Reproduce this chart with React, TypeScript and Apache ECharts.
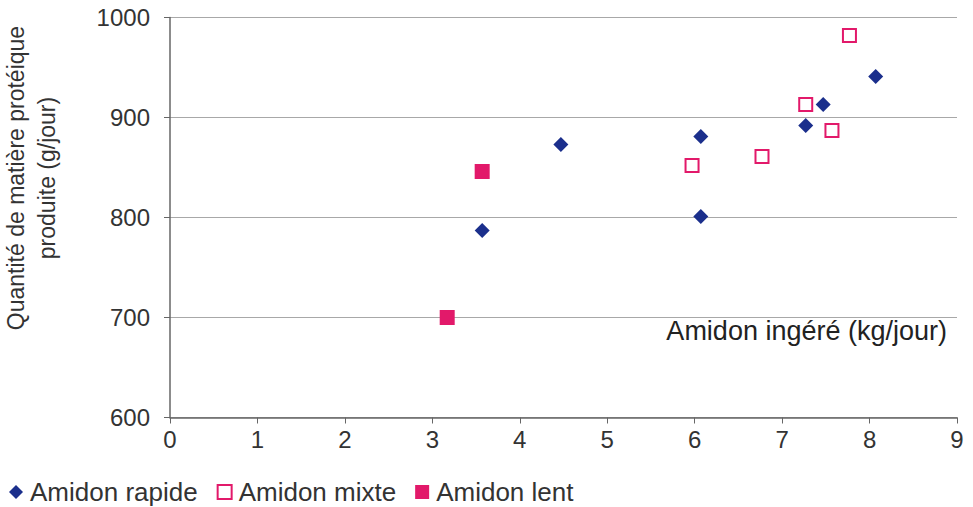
import React, { useEffect, useRef } from "react";
import * as echarts from "echarts";

const rapideX = [3.57, 4.47, 6.07, 6.07, 7.27, 7.47, 8.07];
const rapideY = [787, 873, 881, 801, 892, 913, 941];
const mixteX = [5.97, 6.77, 7.27, 7.57, 7.77];
const mixteY = [852, 861, 913, 887, 982];
const lentX = [3.17, 3.57];
const lentY = [700, 846];

const seriesNames = ["Amidon rapide", "Amidon mixte", "Amidon lent"];
const yAxisTitle = "Quantité de matière protéique\nproduite (g/jour)";
const xAxisTitle = "Amidon ingéré (kg/jour)";

const FONT = "'Liberation Sans', Arial, Helvetica, sans-serif";
const BLUE = "#1b2f8c";
const PINK = "#e2196a";

const pairs = (xs: number[], ys: number[]) => xs.map((x, i) => [x, ys[i]]);

export default function App() {
  const ref = useRef<HTMLDivElement>(null);
  useEffect(() => {
    if (!ref.current) return;
    const chart = echarts.init(ref.current, undefined, { renderer: "svg" });
    chart.setOption({
      animation: false,
      backgroundColor: "#ffffff",
      textStyle: { fontFamily: FONT },
      grid: { left: 170, right: 16, top: 17.5, bottom: 89.5, containLabel: false },
      xAxis: {
        type: "value",
        min: 0,
        max: 9,
        interval: 1,
        axisLine: { show: true, onZero: false, lineStyle: { color: "#666", width: 1.5 } },
        axisTick: { show: true, length: 6, lineStyle: { color: "#666" } },
        axisLabel: { color: "#333", fontSize: 24, fontFamily: FONT, margin: 10 },
        splitLine: { show: false },
      },
      yAxis: {
        type: "value",
        min: 600,
        max: 1000,
        interval: 100,
        axisLine: { show: true, lineStyle: { color: "#666", width: 1.5 } },
        axisTick: { show: true, length: 6, lineStyle: { color: "#666" } },
        axisLabel: {
          color: "#333",
          fontSize: 24,
          fontFamily: FONT,
          margin: 20,
          formatter: (v: number) => String(v),
        },
        splitLine: { show: true, lineStyle: { color: "#a8a8a8", width: 1 } },
      },
      legend: {
        left: 4,
        top: 473,
        itemGap: 19,
        itemWidth: 14,
        itemHeight: 14,
        textStyle: {
          color: "#333",
          fontSize: 26,
          lineHeight: 28,
          fontFamily: FONT,
          padding: [0, 0, 0, 2],
        },
        data: [
          { name: seriesNames[0], icon: "diamond" },
          { name: seriesNames[1], icon: "rect", itemStyle: { color: "#fff", borderColor: PINK, borderWidth: 2 } },
          { name: seriesNames[2], icon: "rect" },
        ],
      },
      graphic: [
        {
          type: "text",
          x: 31,
          y: 178,
          rotation: Math.PI / 2,
          style: {
            text: yAxisTitle,
            font: `23px ${FONT}`,
            fill: "#333",
            align: "center",
            verticalAlign: "middle",
            lineHeight: 31,
          },
        },
        {
          type: "text",
          right: 26,
          top: 317,
          style: {
            text: xAxisTitle,
            font: `27px ${FONT}`,
            fill: "#222",
          },
        },
      ],
      series: [
        {
          name: seriesNames[0],
          type: "scatter",
          data: pairs(rapideX, rapideY),
          symbol: "diamond",
          symbolSize: 15,
          itemStyle: { color: BLUE, opacity: 1 },
        },
        {
          name: seriesNames[1],
          type: "scatter",
          data: pairs(mixteX, mixteY),
          symbol: "rect",
          symbolSize: 13,
          itemStyle: { color: "#fff", borderColor: PINK, borderWidth: 2, opacity: 1 },
        },
        {
          name: seriesNames[2],
          type: "scatter",
          data: pairs(lentX, lentY),
          symbol: "rect",
          symbolSize: 15,
          itemStyle: { color: PINK, opacity: 1 },
        },
      ],
    });
    return () => chart.dispose();
  }, []);
  return <div ref={ref} style={{ width: 973, height: 507, position: "absolute", left: 0, top: 0 }} />;
}
